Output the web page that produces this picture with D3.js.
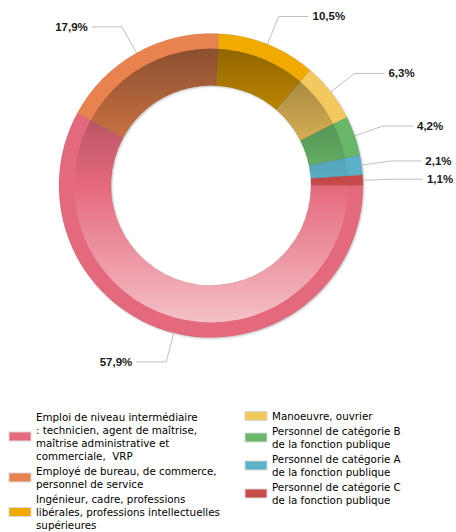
<!DOCTYPE html>
<html>
<head>
<meta charset="utf-8">
<script src="https://cdn.jsdelivr.net/npm/d3@7"></script>
<style>
  html, body { margin: 0; padding: 0; background: #fff; }
  svg { display: block; }
  text { white-space: pre; }
</style>
</head>
<body>
<svg id="chart" width="456" height="532"></svg>
<script>
// ---- data ----
const categories = [
  "Emploi de niveau intermédiaire : technicien, agent de maîtrise, maîtrise administrative et commerciale,  VRP",
  "Employé de bureau, de commerce, personnel de service",
  "Ingénieur, cadre, professions libérales, professions intellectuelles supérieures",
  "Manoeuvre, ouvrier",
  "Personnel de catégorie B de la fonction publique",
  "Personnel de catégorie A de la fonction publique",
  "Personnel de catégorie C de la fonction publique"
];
const legendLines = [
  ["Emploi de niveau intermédiaire", ": technicien, agent de maîtrise,", "maîtrise administrative et", "commerciale,  VRP"],
  ["Employé de bureau, de commerce,", "personnel de service"],
  ["Ingénieur, cadre, professions", "libérales, professions intellectuelles", "supérieures"],
  ["Manoeuvre, ouvrier"],
  ["Personnel de catégorie B", "de la fonction publique"],
  ["Personnel de catégorie A", "de la fonction publique"],
  ["Personnel de catégorie C", "de la fonction publique"]
];
const values = [57.9, 17.9, 10.5, 6.3, 4.2, 2.1, 1.1];
const valueLabels = ["57,9%", "17,9%", "10,5%", "6,3%", "4,2%", "2,1%", "1,1%"];
const colors = ["#e5697c", "#e8834f", "#f0aa00", "#f3c85f", "#69b768", "#5bb1c9", "#c84a4a"];

// ---- layout ----
const svg = d3.select("#chart");
const cx = 211, cy = 185.5;
const rOuter = 152, rBand = 137, rInner = 100, labelDist = 30;

const data = values.map((v, i) => ({ name: categories[i], value: v, label: valueLabels[i], color: colors[i], lines: legendLines[i] }));

const pie = d3.pie().sort(null).value(d => d.value)
  .startAngle(Math.PI / 2).endAngle(Math.PI / 2 + 2 * Math.PI);
const arcs = pie(data);

const defs = svg.append("defs");
const grad = defs.append("linearGradient").attr("id", "shade")
  .attr("gradientUnits", "userSpaceOnUse")
  .attr("x1", 0).attr("x2", 0).attr("y1", -rBand).attr("y2", rBand);
grad.append("stop").attr("offset", 0).attr("stop-color", "#000").attr("stop-opacity", 0.4);
grad.append("stop").attr("offset", 0.5).attr("stop-color", "#000").attr("stop-opacity", 0);
grad.append("stop").attr("offset", 0.5).attr("stop-color", "#fff").attr("stop-opacity", 0);
grad.append("stop").attr("offset", 1).attr("stop-color", "#fff").attr("stop-opacity", 0.58);

const flt = defs.append("filter").attr("id", "shadow").attr("x", -0.1).attr("y", -0.1).attr("width", 1.2).attr("height", 1.2);
flt.append("feGaussianBlur").attr("in", "SourceAlpha").attr("stdDeviation", 1).attr("result", "b");
flt.append("feOffset").attr("in", "b").attr("dx", 0.5).attr("dy", 0.5).attr("result", "o");
flt.append("feComponentTransfer").attr("in", "o").attr("result", "s")
  .append("feFuncA").attr("type", "linear").attr("slope", 0.25);
const fm = flt.append("feMerge");
fm.append("feMergeNode").attr("in", "s");
fm.append("feMergeNode").attr("in", "SourceGraphic");

const g = svg.append("g").attr("transform", `translate(${cx},${cy})`);
const ring = g.append("g").attr("filter", "url(#shadow)");

const arcFull = d3.arc().innerRadius(rInner).outerRadius(rOuter);
ring.selectAll("path.slice").data(arcs).join("path")
  .attr("class", "slice")
  .attr("d", arcFull)
  .attr("fill", d => d.data.color)
  .attr("stroke", "rgba(0,0,0,0.12)")
  .attr("stroke-width", 0.6);

// shaded inner band
const bandArc = d3.arc().innerRadius(rInner).outerRadius(rBand).startAngle(0).endAngle(2 * Math.PI);
g.append("path")
  .attr("d", bandArc())
  .attr("fill", "url(#shade)")
  .style("pointer-events", "none");

// ---- data labels ----
const R = rOuter + labelDist;
const labelsG = svg.append("g");
arcs.forEach(a => {
  const mid = (a.startAngle + a.endAngle) / 2;
  const sx = cx + rOuter * Math.sin(mid), sy = cy - rOuter * Math.cos(mid);
  const ly = cy - R * Math.cos(mid);
  const right = Math.sin(mid) >= 0;
  const dy = ly - cy;
  const bx = cx + (right ? 1 : -1) * Math.sqrt(Math.max(0, R * R - dy * dy));
  const tx = bx + (right ? 1 : -1) * 34;
  const ex = tx + (right ? -1 : 1) * 4;
  labelsG.append("path")
    .attr("d", `M${sx},${sy}L${bx},${ly}L${ex},${ly}`)
    .attr("fill", "none").attr("stroke", "#c0c0c0").attr("stroke-width", 1);
  labelsG.append("text")
    .attr("x", tx).attr("y", ly + 4)
    .attr("text-anchor", right ? "start" : "end")
    .attr("font-family", "'Liberation Sans', Arial, sans-serif")
    .attr("font-weight", "bold").attr("font-size", "11.5px")
    .attr("fill", "#1a1a1a")
    .text(a.data.label);
});

// ---- legend ----
const legendCols = [
  { x: 36, y: 417, items: [0, 1, 2] },
  { x: 272, y: 416, items: [3, 4, 5, 6] }
];
const lineH = 13, gap = 2;
const lg = svg.append("g")
  .attr("font-family", "'DejaVu Sans', Verdana, sans-serif")
  .attr("font-size", "10.3px").attr("fill", "#000");
legendCols.forEach(col => {
  let y = col.y;
  col.items.forEach(i => {
    const d = data[i];
    const n = d.lines.length;
    const centerY = y + (n - 1) * lineH / 2;
    lg.append("rect")
      .attr("x", col.x - 27).attr("y", centerY - 4.5)
      .attr("width", 22).attr("height", 9)
      .attr("fill", d.color).attr("stroke", "#d8d8d8").attr("stroke-width", 1);
    const t = lg.append("text").attr("x", col.x).attr("y", y + 3.5).attr("xml:space", "preserve");
    d.lines.forEach((ln, k) => {
      t.append("tspan").attr("x", col.x).attr("y", y + 3.5 + k * lineH).text(ln);
    });
    y += n * lineH + gap;
  });
});
</script>
</body>
</html>
